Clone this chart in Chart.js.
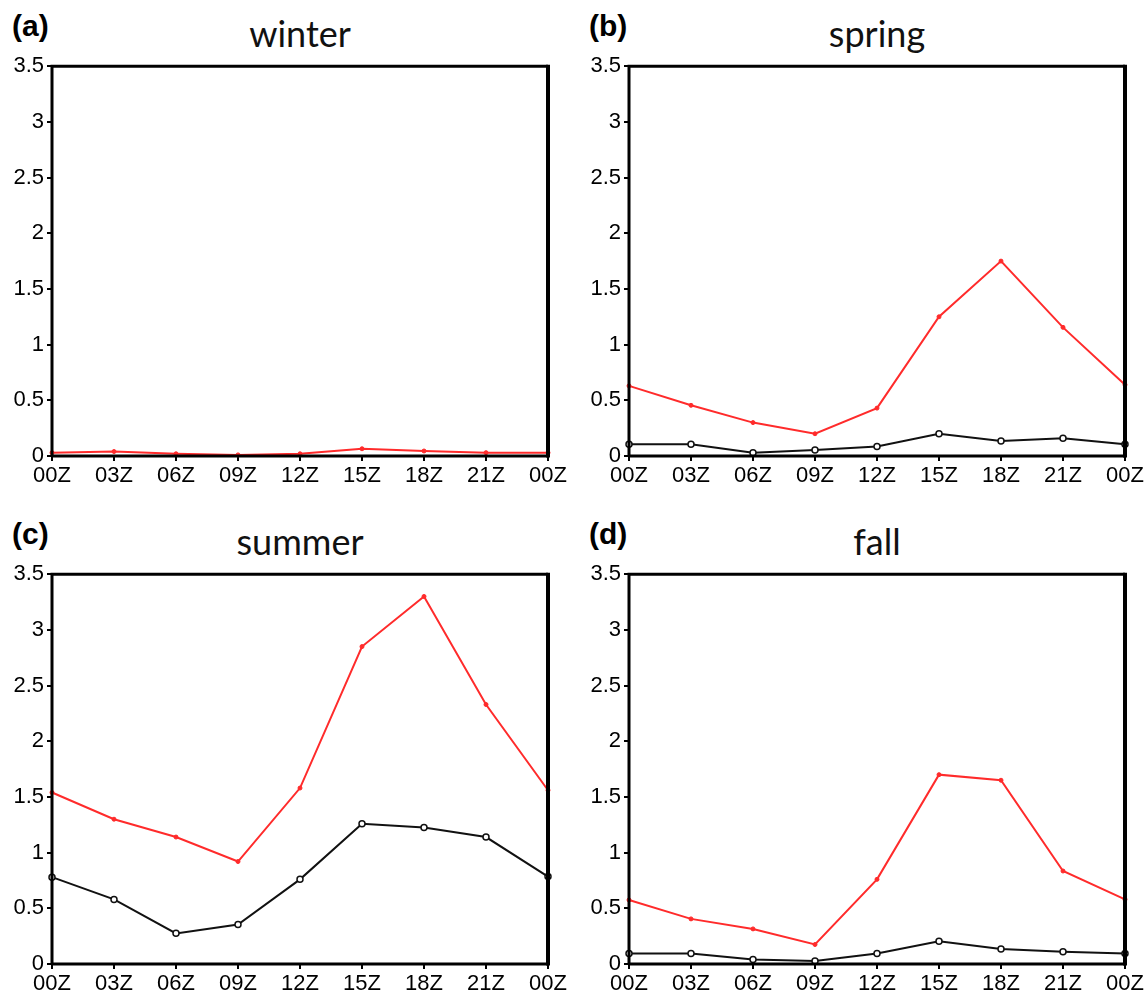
<!DOCTYPE html>
<html lang="en">
<head>
<meta charset="UTF-8">
<title>Seasonal diurnal cycle</title>
<script src="https://cdn.jsdelivr.net/npm/chart.js@4"></script>
<style>
  html, body { margin: 0; padding: 0; background: #fff; }
  body { width: 1148px; height: 994px; position: relative; overflow: hidden; }
  .panel { position: absolute; }
  .tag { position: absolute; font: bold 30px "Liberation Sans", Arial, sans-serif; line-height: 1; color: #000; }
  .title { position: absolute; width: 496px; text-align: center; font: 36px Lato, "Open Sans", sans-serif; line-height: 1; color: #111; }
</style>
</head>
<body>

<script>
// x categories and y ticks
const hours = ['00Z', '03Z', '06Z', '09Z', '12Z', '15Z', '18Z', '21Z', '00Z']
const yTicks = [0, 0.5, 1, 1.5, 2, 2.5, 3, 3.5]

// values
const winterRed = [0.03, 0.04, 0.02, 0.01, 0.02, 0.065, 0.045, 0.03, 0.03]
const springRed = [0.63, 0.455, 0.30, 0.20, 0.43, 1.25, 1.75, 1.155, 0.64]
const springBlack = [0.105, 0.105, 0.03, 0.054, 0.086, 0.20, 0.134, 0.16, 0.105]
const summerRed = [1.54, 1.30, 1.14, 0.92, 1.58, 2.85, 3.30, 2.33, 1.56]
const summerBlack = [0.78, 0.58, 0.275, 0.355, 0.76, 1.26, 1.225, 1.14, 0.785]
const fallRed = [0.575, 0.405, 0.315, 0.175, 0.76, 1.70, 1.65, 0.835, 0.58]
const fallBlack = [0.095, 0.095, 0.04, 0.028, 0.095, 0.205, 0.135, 0.11, 0.095]

const panels = [
    { tag: '(a)', title: 'winter', red: winterRed, black: null, x: 52, y: 66 },
    { tag: '(b)', title: 'spring', red: springRed, black: springBlack, x: 629, y: 66 },
    { tag: '(c)', title: 'summer', red: summerRed, black: summerBlack, x: 52, y: 574 },
    { tag: '(d)', title: 'fall', red: fallRed, black: fallBlack, x: 629, y: 574 },
]

const PLOT_W = 496, PLOT_H = 390, Y_W = 52, X_H = 30, PAD_TOP = 16, PAD_RIGHT = 22

// box around the plot area, right side a little heavier like the original
const frame = {
    id: 'frame',
    afterDraw(chart) {
        const { ctx, chartArea: a } = chart
        ctx.save()
        ctx.strokeStyle = '#000'
        ctx.lineWidth = 3
        ctx.beginPath()
        ctx.moveTo(a.left, a.bottom)
        ctx.lineTo(a.left, a.top)
        ctx.lineTo(a.right, a.top)
        ctx.moveTo(a.left, a.bottom)
        ctx.lineTo(a.right, a.bottom)
        ctx.stroke()
        ctx.lineWidth = 4
        ctx.beginPath()
        ctx.moveTo(a.right, a.top - 1.5)
        ctx.lineTo(a.right, a.bottom + 1.5)
        ctx.stroke()
        ctx.restore()
    }
}

const tickFont = { family: '"Liberation Sans", Arial, sans-serif', size: 22 }

panels.forEach(p => {
    const tag = document.createElement('div')
    tag.className = 'tag'
    tag.textContent = p.tag
    tag.style.left = (p.x - 40) + 'px'
    tag.style.top = (p.y - 55) + 'px'
    document.body.appendChild(tag)

    const title = document.createElement('div')
    title.className = 'title'
    title.textContent = p.title
    title.style.left = p.x + 'px'
    title.style.top = (p.y - 51) + 'px'
    document.body.appendChild(title)

    const wrap = document.createElement('div')
    wrap.className = 'panel'
    wrap.style.left = (p.x - Y_W) + 'px'
    wrap.style.top = (p.y - PAD_TOP) + 'px'
    const canvas = document.createElement('canvas')
    canvas.width = Y_W + PLOT_W + PAD_RIGHT
    canvas.height = PAD_TOP + PLOT_H + X_H
    wrap.appendChild(canvas)
    document.body.appendChild(wrap)

    const datasets = [{
        data: p.red,
        borderColor: '#ff2b2b',
        backgroundColor: '#ff2b2b',
        borderWidth: 2,
        pointRadius: 2,
        pointBorderWidth: 1,
        pointBackgroundColor: '#ff2b2b',
        clip: false,
        order: 1
    }]
    if (p.black) {
        datasets.push({
            data: p.black,
            borderColor: '#111',
            backgroundColor: '#fff',
            borderWidth: 2,
            pointRadius: 3,
            pointBorderWidth: 1.5,
            pointBackgroundColor: '#fff',
            clip: false,
            order: 0
        })
    }

    new Chart(canvas, {
        type: 'line',
        data: { labels: hours, datasets },
        options: {
            responsive: false,
            animation: false,
            layout: { padding: { top: PAD_TOP, right: PAD_RIGHT, left: 0, bottom: 0 } },
            plugins: { legend: { display: false }, tooltip: { enabled: false } },
            scales: {
                x: {
                    type: 'category',
                    offset: false,
                    border: { display: false },
                    grid: { drawOnChartArea: false, drawTicks: true, tickLength: 5, lineWidth: 2, color: '#000' },
                    ticks: { font: tickFont, color: '#000', padding: 2, maxRotation: 0, autoSkip: false },
                    afterFit(scale) { scale.height = X_H }
                },
                y: {
                    min: 0,
                    max: 3.5,
                    border: { display: false },
                    grid: { drawOnChartArea: false, drawTicks: true, tickLength: 5, lineWidth: 2, color: '#000' },
                    ticks: { font: tickFont, color: '#000', padding: 3, callback: v => String(v) },
                    afterBuildTicks(scale) { scale.ticks = yTicks.map(v => ({ value: v })) },
                    afterFit(scale) { scale.width = Y_W }
                }
            }
        },
        plugins: [frame]
    })
})
</script>
</body>
</html>
